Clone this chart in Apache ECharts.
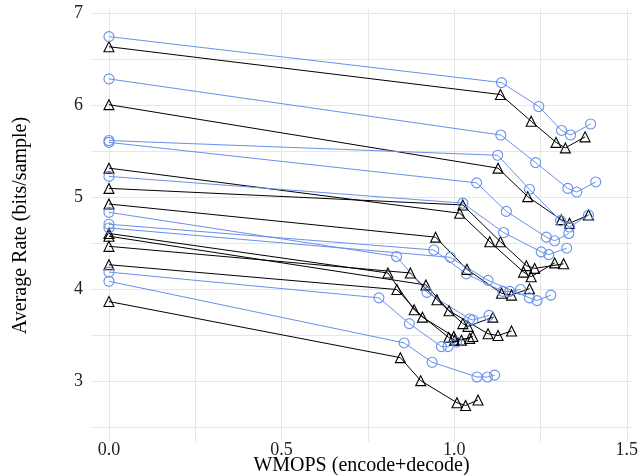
<!DOCTYPE html>
<html>
<head>
<meta charset="utf-8">
<title>Average Rate vs WMOPS</title>
<script src="https://cdn.jsdelivr.net/npm/echarts@6/dist/echarts.min.js"></script>
<style>
  html, body { margin: 0; padding: 0; background: #fff; }
  #chart { width: 639px; height: 475px; }
</style>
</head>
<body>
<div id="chart"></div>
<script>
  // blue open circles, one row per curve
  const circleX = [
    [0, 1.137, 1.245, 1.311, 1.337, 1.395],
    [0, 1.135, 1.236, 1.329, 1.355, 1.410],
    [0, 1.126, 1.218, 1.308, 1.334, 1.389],
    [0, 1.065, 1.151, 1.267, 1.291, 1.332],
    [0, 1.025, 1.143, 1.252, 1.274, 1.326],
    [0, 0.833, 0.921, 1.045, 1.054, 1.101],
    [0, 0.941, 1.035, 1.141, 1.161, 1.192],
    [0, 0.989, 1.098, 1.218, 1.240, 1.280],
    [0, 0.782, 0.870, 0.963, 0.982, 1.007],
    [0, 0.855, 0.936, 1.066, 1.096, 1.117]
  ]
  const circleY = [
    [6.75, 6.25, 5.99, 5.73, 5.68, 5.80],
    [6.29, 5.68, 5.38, 5.10, 5.06, 5.17],
    [5.62, 5.46, 5.09, 4.75, 4.68, 4.81],
    [5.60, 5.16, 4.85, 4.57, 4.53, 4.61],
    [5.23, 4.94, 4.62, 4.41, 4.38, 4.45],
    [4.84, 4.36, 3.97, 3.68, 3.67, 3.72],
    [4.71, 4.43, 4.17, 3.98, 3.98, 4.00],
    [4.67, 4.35, 4.10, 3.91, 3.88, 3.94],
    [4.19, 3.91, 3.63, 3.38, 3.38, 3.43],
    [4.09, 3.42, 3.21, 3.05, 3.05, 3.07]
  ]

  // black open triangles
  const triangleX = [
    [0, 1.134, 1.223, 1.295, 1.322, 1.379],
    [0, 1.127, 1.213, 1.310, 1.334, 1.389],
    [0, 1.016, 1.103, 1.201, 1.223, 1.291],
    [0, 1.025, 1.134, 1.209, 1.233, 1.317],
    [0, 0.946, 1.037, 1.137, 1.166, 1.218],
    [0, 0.808, 0.884, 0.984, 1.001, 1.045],
    [0, 0.918, 0.985, 1.098, 1.127, 1.166],
    [0, 0.873, 0.950, 1.025, 1.040, 1.112],
    [0, 0.834, 0.908, 0.999, 1.021, 1.054],
    [0, 0.844, 0.903, 1.008, 1.033, 1.069]
  ]
  const triangleY = [
    [6.64, 6.12, 5.83, 5.60, 5.54, 5.66],
    [6.01, 5.32, 5.01, 4.76, 4.72, 4.81],
    [5.32, 4.83, 4.52, 4.19, 4.14, 4.29],
    [5.10, 4.92, 4.52, 4.26, 4.23, 4.28],
    [4.93, 4.57, 4.22, 3.96, 3.94, 4.01],
    [4.61, 4.18, 3.78, 3.48, 3.45, 3.47],
    [4.58, 4.05, 3.77, 3.52, 3.50, 3.55],
    [4.47, 4.18, 3.89, 3.63, 3.60, 3.70],
    [4.27, 4.00, 3.70, 3.49, 3.45, 3.49],
    [3.87, 3.26, 3.01, 2.77, 2.74, 2.80]
  ]

  const xTicks = [0, 0.25, 0.5, 0.75, 1, 1.25, 1.5]
  const xLabels = [0, 0.5, 1, 1.5]
  const yTicks = [2.5, 3, 3.5, 4, 4.5, 5, 5.5, 6, 6.5, 7]
  const yLabels = [3, 4, 5, 6, 7]

  const FONT = 'Liberation Serif'
  const BLUE = '#6990ea'

  function makeSeries(xs, ys, color, symbol, size) {
    return xs.map((row, i) => ({
      type: 'line',
      symbol: symbol,
      symbolSize: size,
      showAllSymbol: true,
      animation: false,
      data: row.map((x, j) => [x, ys[i][j]]),
      lineStyle: { color: color, width: 1 },
      itemStyle: { color: 'rgba(255,255,255,0)', borderColor: color, borderWidth: 1.1 }
    }))
  }

  const chart = echarts.init(document.getElementById('chart'))
  chart.setOption({
    backgroundColor: '#fff',
    grid: { left: 91, right: 7, top: 9, bottom: 33, containLabel: false, outerBoundsMode: 'none' },
    xAxis: {
      type: 'value',
      min: -0.052,
      max: 1.515,
      name: 'WMOPS (encode+decode)',
      nameLocation: 'middle',
      nameGap: 14,
      nameMoveOverlap: false,
      nameTextStyle: { fontFamily: FONT, fontSize: 20, color: '#000' },
      axisLine: { show: false },
      axisTick: { show: false, customValues: xTicks },
      axisLabel: {
        customValues: xLabels,
        margin: -1,
        fontFamily: FONT,
        fontSize: 18,
        color: '#222',
        formatter: v => v.toFixed(1)
      },
      splitLine: { show: true, lineStyle: { color: '#e6e6e6', width: 1 } }
    },
    yAxis: {
      type: 'value',
      min: 2.343,
      max: 7.05,
      name: 'Average Rate (bits/sample)',
      nameLocation: 'middle',
      nameGap: 60,
      nameMoveOverlap: false,
      nameTextStyle: { fontFamily: FONT, fontSize: 20, color: '#000' },
      axisLine: { show: false },
      axisTick: { show: false, customValues: yTicks },
      axisLabel: {
        customValues: yLabels,
        margin: 8,
        fontFamily: FONT,
        fontSize: 18,
        color: '#222'
      },
      splitLine: { show: true, lineStyle: { color: '#e6e6e6', width: 1 } }
    },
    series: makeSeries(triangleX, triangleY, '#000', 'triangle', 10)
      .concat(makeSeries(circleX, circleY, BLUE, 'circle', 10))
  })
</script>
</body>
</html>
